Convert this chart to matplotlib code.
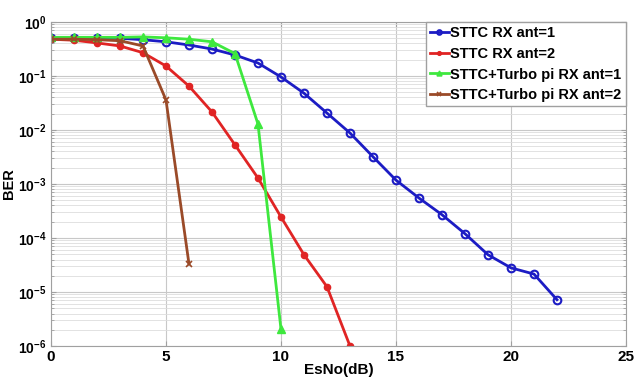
import matplotlib
matplotlib.use("Agg")
import matplotlib.pyplot as plt
from matplotlib.ticker import FixedLocator, NullFormatter, LogFormatterSciNotation

plt.rcParams['font.family'] = ['Liberation Sans', 'DejaVu Sans']
plt.rcParams['font.weight'] = 'bold'

# Data
x_blue = list(range(0, 23))
ber_blue = [0.5, 0.5, 0.5, 0.5, 0.47, 0.43, 0.375, 0.316, 0.245, 0.174, 0.096,
            0.048, 0.0206, 0.0088, 0.0032, 0.00118, 5.5e-4, 2.7e-4, 1.2e-4,
            4.9e-5, 2.8e-5, 2.15e-5, 7.2e-6]
x_red = list(range(0, 14))
ber_red = [0.48, 0.46, 0.41, 0.36, 0.27, 0.153, 0.065, 0.0216, 0.0053, 0.00129,
           2.45e-4, 4.9e-5, 1.25e-5, 1.0e-6]
x_green = list(range(0, 11))
ber_green = [0.52, 0.52, 0.52, 0.52, 0.53, 0.51, 0.48, 0.43, 0.26, 0.0129, 2.05e-6]
x_brown = list(range(0, 7))
ber_brown = [0.48, 0.48, 0.47, 0.45, 0.36, 0.036, 3.3e-5]

labels = ['STTC RX ant=1', 'STTC RX ant=2', 'STTC+Turbo pi RX ant=1', 'STTC+Turbo pi RX ant=2']
xticks = [0, 5, 10, 15, 20, 25]
yticks = [1e-6, 1e-5, 1e-4, 1e-3, 1e-2, 1e-1, 1.0]

fig = plt.figure(figsize=(6.35, 3.82), dpi=100)
ax = fig.add_axes([0.0803, 0.0942, 0.9055, 0.8482])

ax.semilogy(x_blue, ber_blue, color='#1c1cc4', lw=2, marker='o', ms=5.5,
            mfc='none', mec='#1c1cc4', mew=1.5, label=labels[0])
ax.semilogy(x_red, ber_red, color='#e02424', lw=2, marker='o', ms=4.5,
            mfc='#e02424', mec='#e02424', label=labels[1])
ax.semilogy(x_green, ber_green, color='#3ee83e', lw=2, marker='^', ms=6,
            mfc='#3ee83e', mec='#3ee83e', label=labels[2])
ax.semilogy(x_brown, ber_brown, color='#9a4a28', lw=2, marker='x', ms=4,
            mew=1.2, label=labels[3])

ax.set_xlim(0, 25)
ax.set_ylim(1e-6, 1)
ax.set_xticks(xticks)
ax.yaxis.set_major_locator(FixedLocator(yticks))
ax.yaxis.set_major_formatter(LogFormatterSciNotation())
minor = [m * d for d in yticks[:-1] for m in range(2, 10)]
ax.yaxis.set_minor_locator(FixedLocator(minor))
ax.yaxis.set_minor_formatter(NullFormatter())

ax.grid(True, which='major', color='#c8c8c8', lw=0.8)
ax.grid(True, which='minor', axis='y', color='#dddddd', lw=0.6)
for s in ax.spines.values():
    s.set_color('#a0a0a0')
ax.tick_params(axis='both', which='both', colors='#a0a0a0', labelcolor='black',
               direction='in', right=True, top=True)
ax.tick_params(axis='x', labelsize=11, pad=3)
ax.tick_params(axis='y', labelsize=10, pad=3)
for lab in ax.get_xticklabels() + ax.get_yticklabels():
    lab.set_fontweight('bold')

ax.set_xlabel('EsNo(dB)', fontsize=11, fontweight='bold', labelpad=-1)
ax.set_ylabel('BER', fontsize=10.5, fontweight='bold')
ax.yaxis.set_label_coords(-0.06, 0.5)

leg = ax.legend(loc='upper right', fontsize=10.5, handlelength=1.3, handletextpad=0.1,
                borderpad=0.3, labelspacing=0.45, fancybox=False, framealpha=1,
                edgecolor='#a0a0a0', borderaxespad=0, markerscale=0.6)
for t in leg.get_texts():
    t.set_fontweight('bold')

fig.savefig('out.png', dpi=100)
